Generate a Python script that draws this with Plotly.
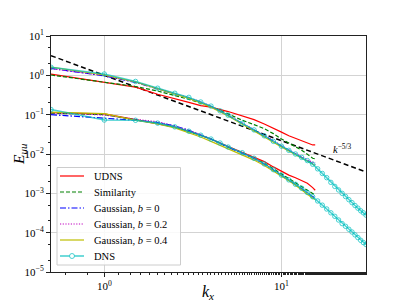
import numpy as np
import plotly.graph_objects as go

# ---------------- data ----------------
k_les = [0.5, 1, 1.5, 2, 2.5, 3, 3.5, 4, 5, 6, 7, 8, 9, 10, 11, 12, 13, 14, 15, 15.5]
k_dns = [0.5, 1, 1.5, 2, 2.5, 3, 3.5, 4, 4.5, 5, 6, 7, 8, 9, 10, 11, 12, 13, 14, 15,
         16, 17, 18, 19, 20, 21, 22, 23, 24, 25, 26, 27, 28, 29, 30]

# upper family
udns_hi = [1.08, 0.67, 0.50, 0.33, 0.26, 0.205, 0.17, 0.155, 0.12, 0.095, 0.075, 0.058, 0.046,
           0.036, 0.029, 0.025, 0.022, 0.019, 0.017, 0.017]
sim_hi = [1.02, 0.66, 0.52, 0.40, 0.31, 0.245, 0.195, 0.16, 0.105, 0.072, 0.056, 0.044, 0.033,
          0.024, 0.019, 0.0155, 0.0125, 0.0098, 0.0078, 0.0076]
g0_hi = [1.50, 0.97, 0.66, 0.45, 0.34, 0.265, 0.205, 0.16, 0.095, 0.060, 0.041, 0.029, 0.021,
         0.0155, 0.0122, 0.0098, 0.0080, 0.0066, 0.0056, 0.0053]
g2_hi = [1.48, 0.99, 0.67, 0.46, 0.345, 0.27, 0.21, 0.163, 0.097, 0.062, 0.042, 0.030, 0.022,
         0.0162, 0.0128, 0.0102, 0.0084, 0.0070, 0.0062, 0.0060]
g4_hi = [1.62, 1.02, 0.68, 0.46, 0.34, 0.26, 0.20, 0.155, 0.092, 0.058, 0.039, 0.028, 0.020,
         0.0150, 0.0118, 0.0094, 0.0077, 0.0063, 0.0054, 0.0051]
dns_hi = [1.60, 1.08, 0.70, 0.47, 0.35, 0.275, 0.21, 0.165, 0.125, 0.097, 0.060, 0.041, 0.029,
          0.021, 0.0158, 0.0124, 0.0100, 0.0082, 0.0068, 0.0055, 0.0042, 0.0032, 0.0025, 0.0019,
          0.0015, 0.00122, 0.0010, 0.00083, 0.00069, 0.00058, 0.00049, 0.00042, 0.00036,
          0.00032, 0.00028]

# lower family
udns_lo = [0.112, 0.105, 0.075, 0.059, 0.048, 0.038, 0.030, 0.024, 0.0155, 0.011, 0.0082, 0.0064,
           0.0047, 0.0036, 0.0029, 0.0025, 0.0021, 0.0018, 0.0014, 0.0012]
sim_lo = [0.110, 0.100, 0.074, 0.060, 0.048, 0.038, 0.030, 0.024, 0.015, 0.0108, 0.0079, 0.0058,
          0.0042, 0.0031, 0.0024, 0.0019, 0.0015, 0.0012, 0.00095, 0.0009]
g0_lo = [0.100, 0.083, 0.072, 0.063, 0.052, 0.040, 0.031, 0.024, 0.0148, 0.0106, 0.0077, 0.0055,
         0.0039, 0.0028, 0.0021, 0.0016, 0.0013, 0.0010, 0.0008, 0.00075]
g2_lo = [0.112, 0.098, 0.076, 0.066, 0.051, 0.040, 0.031, 0.024, 0.015, 0.0108, 0.0078, 0.0056,
         0.0040, 0.0029, 0.0022, 0.0017, 0.0013, 0.00105, 0.00082, 0.00078]
g4_lo = [0.116, 0.106, 0.072, 0.058, 0.046, 0.035, 0.027, 0.021, 0.0135, 0.0092, 0.0070, 0.0051,
         0.0037, 0.0027, 0.0021, 0.0016, 0.0012, 0.00095, 0.00075, 0.0007]
dns_lo = [0.135, 0.073, 0.072, 0.061, 0.049, 0.038, 0.030, 0.024, 0.019, 0.015, 0.0108, 0.0078,
          0.0056, 0.0040, 0.0029, 0.0022, 0.0017, 0.00135, 0.00105, 0.00082, 0.00064, 0.0005,
          0.0004, 0.00032, 0.00026, 0.00021, 0.00017, 0.000145, 0.000122, 0.000104, 0.000088,
          0.000075, 0.000064, 0.000056, 0.00005]

# k^-5/3 reference line end points
ref_k = [0.5, 30]
ref_E = [3.17, 0.0035]

# tick labels
x_tickvals = [1, 10]
x_ticktext = ["10<sup>0</sup>", "10<sup>1</sup>"]
y_tickvals = [1e1, 1e0, 1e-1, 1e-2, 1e-3, 1e-4, 1e-5]
y_ticktext = ["10<sup>1</sup>", "10<sup>0</sup>", "10<sup>−1</sup>", "10<sup>−2</sup>",
              "10<sup>−3</sup>", "10<sup>−4</sup>", "10<sup>−5</sup>"]

series_names = ["UDNS", "Similarity", "Gaussian, <i>b</i> = 0", "Gaussian, <i>b</i> = 0.2",
                "Gaussian, <i>b</i> = 0.4", "DNS"]

FONT = "Liberation Serif"

styles = [
    dict(color="#ff0000", width=1.2, dash="solid"),
    dict(color="#008000", width=1.2, dash="4px,2px"),
    dict(color="#0000ff", width=1.2, dash="6px,2px,1.5px,2px"),
    dict(color="#bf00bf", width=1.2, dash="1.2px,1.5px"),
    dict(color="#bfbf00", width=1.2, dash="solid"),
]
DNS_COL = "rgba(0,191,191,0.7)"

fig = go.Figure()

fig.add_trace(go.Scatter(x=ref_k, y=ref_E, mode="lines", showlegend=False,
                         line=dict(color="black", width=1.5, dash="5px,3px")))

les = [(udns_hi, udns_lo), (sim_hi, sim_lo), (g0_hi, g0_lo), (g2_hi, g2_lo), (g4_hi, g4_lo)]
for name, (hi, lo), ln in zip(series_names[:5], les, styles):
    fig.add_trace(go.Scatter(x=k_les, y=hi, mode="lines", name=name, showlegend=False, line=ln))
    fig.add_trace(go.Scatter(x=k_les, y=lo, mode="lines", name=name, showlegend=False, line=ln))

dns_style = dict(mode="lines+markers", line=dict(color=DNS_COL, width=1.6),
                 marker=dict(symbol="circle-open", size=4.5, color=DNS_COL, line=dict(width=1)))
fig.add_trace(go.Scatter(x=k_dns, y=dns_hi, name="DNS", showlegend=False, **dns_style))
fig.add_trace(go.Scatter(x=k_dns, y=dns_lo, name="DNS", showlegend=False, **dns_style))

axis_common = dict(type="log", showline=True, linecolor="#222222", linewidth=1, mirror=True,
                   ticks="outside", ticklen=4, tickcolor="#222222", showgrid=True,
                   gridcolor="#d3d3d3", gridwidth=1, zeroline=False, automargin=False,
                   tickfont=dict(family=FONT, size=11, color="black"),
                   minor=dict(ticks="outside", ticklen=2, tickcolor="#222222", showgrid=False))

fig.update_xaxes(range=[np.log10(0.5), np.log10(30)], tickmode="array",
                 tickvals=x_tickvals, ticktext=x_ticktext, **axis_common)
fig.update_yaxes(range=[-5, 1], tickmode="array",
                 tickvals=y_tickvals, ticktext=y_ticktext, **axis_common)

PW, PH = 315.0, 236.0   # plot-area size in px


def px2paper(px, py):
    return (px - 51) / PW, (272 - py) / PH


# axis titles
tx, ty = px2paper(208, 292)
fig.add_annotation(x=tx, y=ty, xref="paper", yref="paper", text="<i>k<sub>x</sub></i>",
                   showarrow=False, xanchor="center", yanchor="middle",
                   font=dict(family=FONT, size=16, color="black"))
tx, ty = px2paper(19, 154)
fig.add_annotation(x=tx, y=ty, xref="paper", yref="paper", text="<i>E<sub>uu</sub></i>",
                   showarrow=False, xanchor="center", yanchor="middle", textangle=-90,
                   font=dict(family=FONT, size=15.5, color="black"))

fig.add_annotation(x=np.log10(22.0), y=np.log10(0.0135), xref="x", yref="y",
                   text="<i>k</i><sup>−5/3</sup>", showarrow=False,
                   font=dict(family=FONT, size=10.5, color="black"))

# ---- legend drawn in the plot area ----
x0, y0 = px2paper(57, 265)
x1, y1 = px2paper(180.5, 167.5)
fig.add_shape(type="rect", xref="paper", yref="paper", x0=x0, y0=y0, x1=x1, y1=y1,
              line=dict(color="#cccccc", width=1), fillcolor="rgba(255,255,255,0.85)",
              layer="above")
row_y = [176, 192, 208, 224, 240, 256]
for i, name in enumerate(series_names):
    la, ly = px2paper(60, row_y[i])
    lb, _ = px2paper(84, row_y[i])
    ln = styles[i] if i < 5 else dict(color=DNS_COL, width=1.6, dash="solid")
    fig.add_shape(type="line", xref="paper", yref="paper", x0=la, x1=lb, y0=ly, y1=ly,
                  line=ln, layer="above")
    tx, ty = px2paper(92, row_y[i])
    fig.add_annotation(x=tx, y=ty, xref="paper", yref="paper", text=name, showarrow=False,
                       xanchor="left", yanchor="middle",
                       font=dict(family=FONT, size=10.5, color="black"))
cx, cy = px2paper(72, row_y[5])
rx, ry = 2.5 / PW, 2.5 / PH
fig.add_shape(type="circle", xref="paper", yref="paper", x0=cx - rx, x1=cx + rx,
              y0=cy - ry, y1=cy + ry, line=dict(color=DNS_COL, width=1),
              fillcolor="white", layer="above")

# the page body adds an 8px offset; size/margins compensate for it
fig.update_layout(
    width=399, height=297,
    margin=dict(l=43, r=41, t=28, b=33),
    plot_bgcolor="white", paper_bgcolor="white",
    font=dict(family=FONT, color="black"),
    showlegend=False,
)

fig.write_html("out.html")
